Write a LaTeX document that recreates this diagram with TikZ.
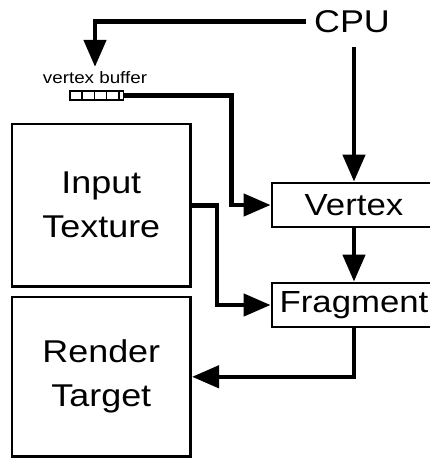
\documentclass[tikz,border=0pt]{standalone}
\usepackage{fontspec}
\setmainfont{Liberation Sans}[FakeStretch=1.14]
\usetikzlibrary{arrows.meta}

\begin{document}
\begin{tikzpicture}[x=1pt,y=-1pt,
  bigbox/.style={draw,line width=2.8pt,align=center,inner sep=0pt,
    minimum width=178.7pt,font=\fontsize{31.5}{44}\selectfont},
  stage/.style={draw,line width=2.8pt,inner sep=0pt,minimum width=164pt,
    minimum height=44pt,font=\fontsize{30.5}{36}\selectfont},
  flow/.style={line width=4.5pt,-{Triangle[length=27pt,width=22pt]}}]
  \useasboundingbox (0,0) rectangle (430,459);
  \clip (0,0) rectangle (430,459);
  \node[anchor=base,inner xsep=8pt,inner ysep=14pt,
    font=\fontsize{31.5}{36}\selectfont] (cpu) at (352,32.5) {CPU};
  \node[anchor=base,inner sep=1pt,font=\fontsize{16.5}{19}\selectfont]
    (buflabel) at (95,83) {vertex buffer};
  \node[draw,line width=1.6pt,outer sep=0pt,inner sep=0pt,
    minimum width=53.3pt,minimum height=9pt] (buf) at (96.7,95.5) {};
  \foreach \i in {1,...,4}
    \draw[line width=1.6pt] ([xshift=\i*12.2pt]buf.south west)
      -- ([xshift=\i*12.2pt]buf.north west);
  \node[stage] (vertex) at (354,205) {Vertex};
  \node[stage] (fragment) at (354,305) {Fragment};
  \node[bigbox,minimum height=162.7pt] (input) at (101.3,205.3) {Input\\Texture};
  \node[bigbox,minimum height=159.7pt] (render) at (101.3,376.8) {Render\\Target};
  \draw[flow] (cpu.west) -| ([yshift=3pt]buflabel.north);
  \draw[flow] (cpu.south -| vertex.north) -- (vertex.north);
  \draw[flow] (buf.east) -- ++(108,0) |- (vertex.west);
  \draw[flow] (vertex.south) -- (fragment.north);
  \draw[flow] (input.east) -- ++(25,0) |- (fragment.west);
  \draw[flow] (fragment.south) |- (render.east);
\end{tikzpicture}
\end{document}
